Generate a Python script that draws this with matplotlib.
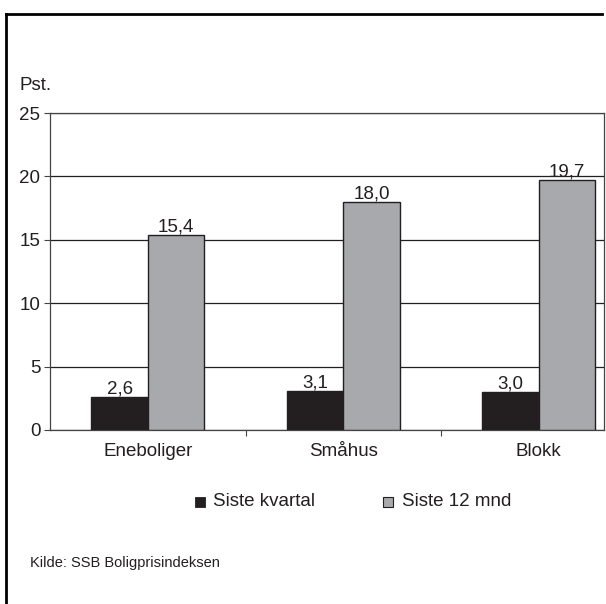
import matplotlib
matplotlib.use("Agg")
import matplotlib.pyplot as plt
from matplotlib.lines import Line2D
from matplotlib.patches import Rectangle
import numpy as np

categories = ["Eneboliger", "Småhus", "Blokk"]
siste_kvartal = [2.6, 3.1, 3.0]
siste_12_mnd = [15.4, 18.0, 19.7]
series_names = ["Siste kvartal", "Siste 12 mnd"]
yticks = [0, 5, 10, 15, 20, 25]

plt.rcParams['font.family'] = ['Liberation Sans', 'DejaVu Sans']

W, H = 606, 604
FS = 13.5
TXT = "#231f20"
fig = plt.figure(figsize=(W / 100, H / 100), dpi=100)
ax = fig.add_axes([50 / W, (H - 430) / H, 554 / W, 317 / H])

black = "#231f20"
gray = "#a7a9ac"
edge = "#231f20"
bw = 0.288
x = np.arange(len(categories))
b1 = ax.bar(x - bw / 2, siste_kvartal, bw, color=black, edgecolor=edge, linewidth=1.0, zorder=3)
b2 = ax.bar(x + bw / 2, siste_12_mnd, bw, color=gray, edgecolor=edge, linewidth=1.0, zorder=3)

for bars, vals in ((b1, siste_kvartal), (b2, siste_12_mnd)):
    for r, v in zip(bars, vals):
        ax.annotate(f"{v:.1f}".replace(".", ","), (r.get_x() + r.get_width() / 2, v),
                    xytext=(0, 2.5), textcoords="offset points", ha="center", va="baseline",
                    fontsize=FS, color=TXT)

ax.set_ylim(0, 25)
ax.set_xlim(-0.5, -0.5 + 554 / 195.5)
ax.set_yticks(yticks)
ax.set_yticklabels([str(t) for t in yticks], fontsize=FS, color=TXT)
ax.set_xticks([0.5, 1.5])
ax.set_xticklabels([])
ax.tick_params(axis="x", direction="out", length=4, width=0.8, color="#444444")
ax.tick_params(axis="y", direction="out", length=4, width=0.8, color="#444444", pad=3)
for xc, name in zip(x, categories):
    ax.text(xc, -26 / 12.68, name, ha="center", va="baseline", fontsize=FS, color=TXT,
            transform=ax.transData)
ax.grid(axis="y", color="#231f20", linewidth=0.9, zorder=0)
ax.set_axisbelow(True)
for s in ax.spines.values():
    s.set_color("#444444")
    s.set_linewidth(0.9)

fig.text(20 / W, 1 - 85 / H, "Pst.", fontsize=FS, va="center", ha="left", color=TXT)

# legend
fig.patches.append(Rectangle((195 / W, 1 - 507 / H), 10 / W, 10 / H, transform=fig.transFigure,
                             facecolor=black, edgecolor=edge, linewidth=0.6))
fig.text(213 / W, 1 - 502 / H, series_names[0], fontsize=FS, va="center", ha="left", color=TXT)
fig.patches.append(Rectangle((383 / W, 1 - 507 / H), 10 / W, 10 / H, transform=fig.transFigure,
                             facecolor=gray, edgecolor=edge, linewidth=0.8))
fig.text(402 / W, 1 - 502 / H, series_names[1], fontsize=FS, va="center", ha="left", color=TXT)

fig.text(30 / W, 1 - 563 / H, "Kilde: SSB Boligprisindeksen", fontsize=10.5, va="center", ha="left",
         color=TXT)

# frame
fig.lines.append(Line2D([6 / W, 602 / W], [1 - 14 / H, 1 - 14 / H], transform=fig.transFigure,
                        color="black", linewidth=2))
fig.lines.append(Line2D([6 / W, 6 / W], [1 - 14 / H, 0], transform=fig.transFigure,
                        color="black", linewidth=2))

fig.savefig("out.png", dpi=100)
